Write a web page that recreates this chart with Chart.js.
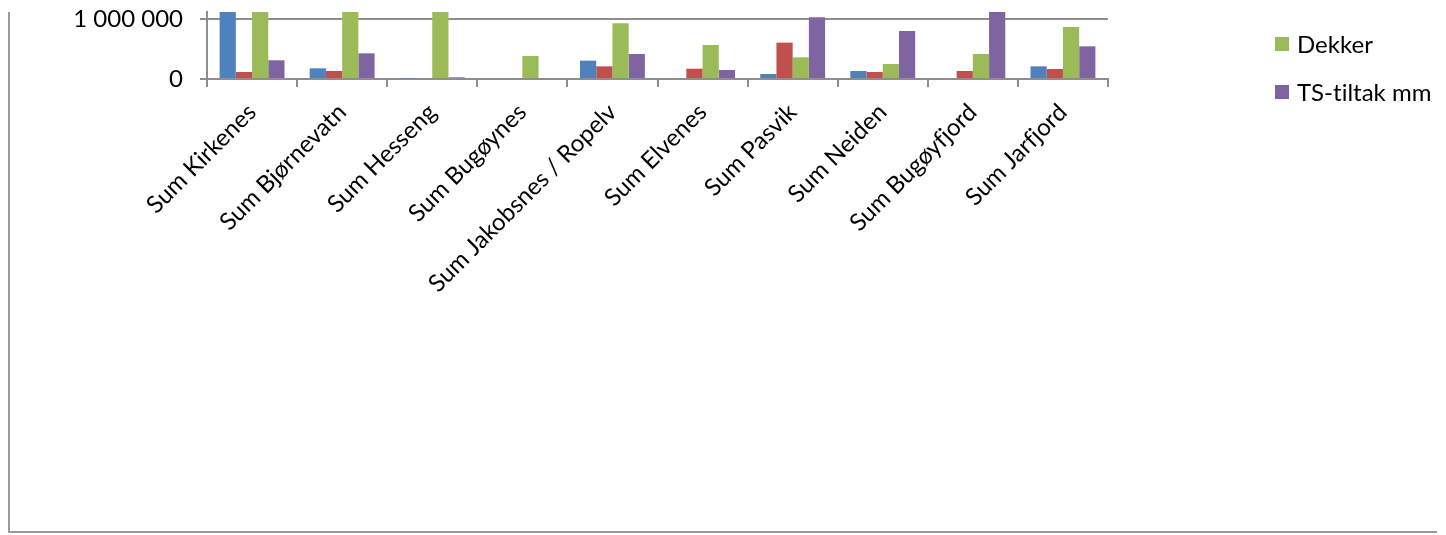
<!DOCTYPE html>
<html>
<head>
<meta charset="utf-8">
<script src="https://cdn.jsdelivr.net/npm/chart.js@4/dist/chart.umd.min.js"></script>
<style>
  html, body { margin: 0; padding: 0; background: #fff; }
  #wrap { position: relative; width: 1446px; height: 535px; overflow: hidden; }
  #frame { position: absolute; left: 8px; top: 12px; width: 1427px; height: 519px;
           border-left: 2px solid #9a9a9a; border-bottom: 2px solid #9a9a9a; }
  canvas { position: absolute; left: 0; top: 0; }
</style>
</head>
<body>
<div id="wrap">
  <div id="frame"></div>
  <canvas id="c" width="1446" height="535"></canvas>
</div>
<script>
// Områder (kategorier)
const categories = ['Sum Kirkenes', 'Sum Bjørnevatn', 'Sum Hesseng', 'Sum Bugøynes',
  'Sum Jakobsnes / Ropelv', 'Sum Elvenes', 'Sum Pasvik', 'Sum Neiden', 'Sum Bugøyfjord', 'Sum Jarfjord'];

// Kostnader per område (kr)
const grofting    = [1750000, 178000, 8000, 0, 306000, 0, 83000, 133000, 0, 211000];
const stikkrenner = [117000, 133000, 0, 0, 211000, 172000, 606000, 117000, 133000, 167000];
const dekker      = [2600000, 1900000, 3100000, 383000, 928000, 567000, 361000, 250000, 417000, 867000];
const tsTiltak    = [312000, 428000, 28000, 17000, 417000, 150000, 1028000, 800000, 1450000, 544000];

const seriesNames  = ['Grøfting', 'Stikkrenner', 'Dekker', 'TS-tiltak mm'];
const seriesColors = ['#4F81BD', '#C0504D', '#9BBB59', '#8064A2'];
const yTicks = [0, 1000000];
const legendShown = ['Dekker', 'TS-tiltak mm'];

const FONT = 'Lato, "Open Sans", sans-serif';
const FSIZE = 24;
const GRID = '#8e8e8e';

const values = [grofting, stikkrenner, dekker, tsTiltak];

// Tekst uten ligaturer (ti, fj)
const plainText = {
  id: 'plainText',
  beforeDraw(chart) { chart.ctx.textRendering = 'optimizeSpeed'; }
};

// Forklaring tegnet til høyre for plottet
const sideLegend = {
  id: 'sideLegend',
  afterDraw(chart) {
    const ctx = chart.ctx;
    ctx.save();
    ctx.textRendering = 'optimizeSpeed';
    ctx.font = FSIZE + 'px ' + FONT;
    ctx.textBaseline = 'middle';
    ctx.textAlign = 'left';
    let y = 44;
    chart.data.datasets.forEach(ds => {
      if (!legendShown.includes(ds.label)) return;
      ctx.fillStyle = ds.backgroundColor;
      ctx.fillRect(1275, y - 7, 14, 14);
      ctx.fillStyle = '#000';
      ctx.fillText(ds.label, 1297, y + 1);
      y += 48;
    });
    ctx.restore();
  }
};

new Chart(document.getElementById('c'), {
  type: 'bar',
  data: {
    labels: categories,
    datasets: values.map((v, i) => ({
      label: seriesNames[i],
      data: v,
      backgroundColor: seriesColors[i],
      borderWidth: 0,
      categoryPercentage: 0.72,
      barPercentage: 1.0,
      clip: 0
    }))
  },
  options: {
    responsive: false,
    animation: false,
    layout: { padding: { top: 12, right: 338, bottom: 0, left: 0 } },
    plugins: { legend: { display: false }, tooltip: { enabled: false } },
    scales: {
      x: {
        afterFit: s => { s.height = 535 - 79; s.paddingLeft = 0; s.paddingRight = 0; },
        grid: { display: true, offset: true, drawOnChartArea: false, drawTicks: true,
                tickLength: 8, color: GRID, lineWidth: 2 },
        border: { display: true, color: GRID, width: 2 },
        ticks: { autoSkip: false, minRotation: 45, maxRotation: 45, padding: 11,
                 color: '#000', font: { family: FONT, size: FSIZE } }
      },
      y: {
        min: 0,
        max: 1116667,
        afterFit: s => { s.width = 207; s.paddingTop = 0; s.paddingBottom = 0; },
        afterBuildTicks: s => { s.ticks = yTicks.map(v => ({ value: v })); },
        grid: { color: GRID, lineWidth: 2, tickLength: 7, drawTicks: true },
        border: { display: true, color: GRID, width: 2 },
        ticks: {
          padding: 17, color: '#000', font: { family: FONT, size: FSIZE },
          callback: v => String(Math.round(v)).replace(/\B(?=(\d{3})+(?!\d))/g, ' ')
        }
      }
    }
  },
  plugins: [plainText, sideLegend]
});
</script>
</body>
</html>
